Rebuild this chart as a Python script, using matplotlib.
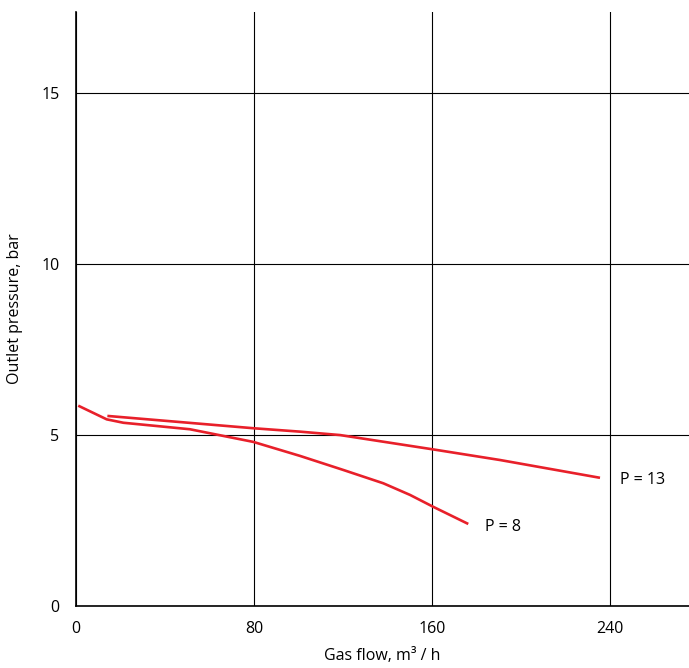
import matplotlib.pyplot as plt

# curva P = 8
flujo_p8 = [1.0, 13.8, 21.3, 51.2, 79.7, 100.7, 120.1, 138.1, 150.1, 160.6, 176.3]
presion_p8 = [5.86, 5.46, 5.36, 5.17, 4.80, 4.39, 3.98, 3.59, 3.25, 2.90, 2.40]

# curva P = 13
flujo_p13 = [14.1, 79.7, 100.7, 118.7, 160.6, 190.6, 235.5]
presion_p13 = [5.56, 5.20, 5.10, 5.00, 4.58, 4.27, 3.75]

ticks_x = [0, 80, 160, 240]
ticks_y = [0, 5, 10, 15]

ROJO = "#e8202a"

plt.rcParams["font.family"] = ["Open Sans", "DejaVu Sans"]

fig = plt.figure(figsize=(6.89, 6.68), dpi=100)
ax = fig.add_axes([0.1103, 0.0928, 0.8897, 0.889])

ax.plot(flujo_p8, presion_p8, color=ROJO, lw=1.9, solid_capstyle="butt", solid_joinstyle="round")
ax.plot(flujo_p13, presion_p13, color=ROJO, lw=1.9, solid_capstyle="butt", solid_joinstyle="round")

ax.text(244.5, 3.68, "P = 13", fontsize=11.5, va="center", ha="left")
ax.text(183.8, 2.31, "P = 8", fontsize=11.5, va="center", ha="left")

ax.set_xlim(0, 275.5)
ax.set_ylim(0, 17.37)
ax.set_xticks(ticks_x)
ax.set_yticks(ticks_y)
ax.tick_params(length=0, labelsize=11.5)
ax.tick_params(axis="x", pad=11)
ax.tick_params(axis="y", pad=12)

ax.grid(True, color="black", lw=0.8)
ax.set_axisbelow(True)
for lado in ["top", "right"]:
    ax.spines[lado].set_visible(False)
for lado in ["left", "bottom"]:
    ax.spines[lado].set_linewidth(1.2)
    ax.spines[lado].set_color("black")

ax.set_xlabel("Gas flow, m³ / h", fontsize=11.5, labelpad=8)
ax.set_ylabel("Outlet pressure, bar", fontsize=11.5, labelpad=13)

fig.savefig("out.png", dpi=100)
